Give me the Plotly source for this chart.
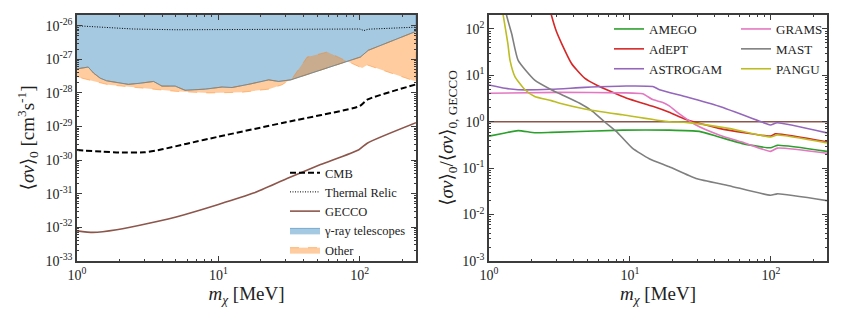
import plotly.graph_objects as go

# ── Left panel: annihilation cross-section constraints ────────────────────────
mass_gamma = [1.0, 1.2, 1.31, 1.46, 1.62, 1.96, 2.31, 2.8, 3.48, 3.99, 4.95, 5.82,
              8.09, 10.6, 12.5, 16.8, 22.7, 26.7, 32.5, 101, 115, 250]
sv_gamma = [5.2e-28, 5.9e-28, 3.9e-28, 2.75e-28, 2.3e-28, 2.05e-28, 1.8e-28, 1.95e-28,
            2.2e-28, 1.6e-28, 1.6e-28, 1.2e-28, 1.3e-28, 1.5e-28, 1.45e-28, 1.85e-28,
            2.45e-28, 2.2e-28, 2.45e-28, 1.17e-27, 1.86e-27, 6.8e-27]

mass_other = [1.0, 1.34, 1.67, 2.87, 4.95, 8.53, 14.7, 22.7, 28.2, 33.4, 42.5,
              55.5, 58.8, 81.9, 104, 113, 250]
sv_other = [3.0e-28, 2.2e-28, 1.75e-28, 1.4e-28, 1.12e-28, 1.0e-28, 1.05e-28, 1.3e-28,
            1.75e-28, 2.75e-28, 1.17e-27, 1.55e-27, 1.66e-27, 8.7e-28, 5.5e-28,
            6.8e-28, 2.2e-28]

mass_relic = [1.0, 1.5, 2.5, 5, 20, 60, 100, 107, 115, 250]
sv_relic = [1.0e-26, 9.2e-27, 8.0e-27, 7.6e-27, 7.6e-27, 7.8e-27, 8.0e-27, 7.2e-27,
            7.9e-27, 9.1e-27]

mass_cmb = [1.0, 1.5, 2.0, 3.0, 4.0, 6.0, 10, 30, 100, 113, 250]
sv_cmb = [2.0e-30, 1.8e-30, 1.7e-30, 1.72e-30, 2.1e-30, 3.1e-30, 5.0e-30, 1.35e-29,
          4.1e-29, 6.3e-29, 1.8e-28]

mass_gecco = [1.0, 1.3, 1.91, 3.29, 5.66, 10, 17.7, 30.6, 52.8, 98.6, 113, 250]
sv_gecco = [7.9e-33, 7.1e-33, 8.5e-33, 1.35e-32, 2.35e-32, 4.8e-32, 1.05e-31, 2.85e-31,
            7.4e-31, 2.05e-30, 3.2e-30, 1.3e-29]

sv_fill_top = 1e-25

# ── Right panel: ratio to GECCO ───────────────────────────────────────────────
mass_amego = [1.0, 1.3, 1.61, 2.11, 2.77, 8.9, 19, 31, 42.9, 65.2, 99.4, 111, 250]
ratio_amego = [0.49, 0.575, 0.645, 0.58, 0.59, 0.66, 0.66, 0.62, 0.47, 0.33, 0.275,
               0.31, 0.23]

mass_adept = [2.65, 2.77, 3.0, 3.27, 3.85, 4.2, 4.77, 5.78, 9.4, 14.5, 19, 25, 42.9,
              99.4, 108, 250]
ratio_adept = [350, 200, 90, 49, 18, 13, 8.7, 6.2, 3.25, 2.15, 1.6, 1.12, 0.72, 0.49,
               0.55, 0.37]

mass_astrogam = [1.0, 1.3, 1.61, 2.77, 4.77, 9.4, 14.5, 16.2, 25, 42.9, 91, 99.4, 111, 250]
ratio_astrogam = [6.2, 5.25, 4.9, 5.0, 5.5, 5.9, 5.75, 4.9, 3.45, 2.15, 0.93, 0.85,
                  0.95, 0.575]

mass_grams = [1.0, 3.18, 8.9, 12.3, 14.5, 17.1, 19, 22.3, 29.4, 42.9, 65.2, 99.4, 111, 250]
ratio_grams = [4.1, 4.3, 4.2, 4.0, 3.0, 2.6, 2.2, 1.5, 0.85, 0.52, 0.35, 0.23, 0.27, 0.21]

mass_mast = [1.28, 1.33, 1.45, 1.61, 2.11, 2.77, 3.18, 4.4, 5.46, 6.6, 8.0, 10.4, 13.7,
             19, 29.4, 50.5, 99.4, 111, 250]
ratio_mast = [450, 200, 78, 21, 7.9, 4.9, 4.0, 2.5, 1.66, 1.0, 0.62, 0.27, 0.16, 0.107,
              0.06, 0.042, 0.026, 0.028, 0.020]

mass_pangu = [1.2, 1.26, 1.36, 1.41, 1.53, 1.80, 2.11, 2.77, 3.18, 4.77, 8.9, 19, 25,
              50, 99.4, 111, 250]
ratio_pangu = [500, 200, 49, 21, 9.3, 4.9, 3.5, 2.85, 2.5, 1.89, 1.41, 1.0, 0.97, 0.72,
               0.47, 0.52, 0.35]

mass_ref = [1.0, 250]
ratio_ref = [1.0, 1.0]

FONT = "Liberation Serif, DejaVu Serif, serif"
FRAME = "#3c3c3c"
W, H = 843, 320
PAGE = 8            # default <body> margin of the written page


def px(x):
    """screen x (pixels) -> paper fraction"""
    return (x - PAGE) / W


def py(y):
    """screen y (pixels, from top) -> paper fraction"""
    return 1 - (y - PAGE) / H


fig = go.Figure()

# ── Left panel ────────────────────────────────────────────────────────────────
fig.add_trace(go.Scatter(
    x=mass_gamma + mass_gamma[::-1], y=sv_gamma + [sv_fill_top] * len(mass_gamma),
    fill="toself", fillcolor="rgba(31,119,180,0.4)", mode="lines",
    line=dict(color="rgba(31,119,180,0.5)", width=1),
    name="γ-ray telescopes", legendrank=4, hoverinfo="skip"))
fig.add_trace(go.Scatter(
    x=mass_gamma + mass_other[::-1], y=sv_gamma + sv_other[::-1],
    fill="toself", fillcolor="rgba(255,127,14,0.4)", mode="lines",
    line=dict(color="rgba(255,127,14,0.45)", width=1, dash="dash"),
    name="Other", legendrank=5, hoverinfo="skip"))
fig.add_trace(go.Scatter(
    x=mass_gamma, y=sv_gamma, mode="lines", showlegend=False,
    line=dict(color="rgba(125,125,120,0.7)", width=1)))
fig.add_trace(go.Scatter(
    x=mass_cmb, y=sv_cmb, mode="lines", name="CMB", legendrank=1,
    line=dict(color="black", width=2, dash="6px,3px", shape="spline", smoothing=0.6)))
fig.add_trace(go.Scatter(
    x=mass_relic, y=sv_relic, mode="lines", name="Thermal Relic", legendrank=2,
    line=dict(color="black", width=1, dash="1px,1.5px")))
fig.add_trace(go.Scatter(
    x=mass_gecco, y=sv_gecco, mode="lines", name="GECCO", legendrank=3,
    line=dict(color="#8c564b", width=1.6, shape="spline", smoothing=0.6)))

# ── Right panel ───────────────────────────────────────────────────────────────
right = [
    ("AMEGO", mass_amego, ratio_amego, "#2ca02c", "legend2"),
    ("AdEPT", mass_adept, ratio_adept, "#d62728", "legend2"),
    ("ASTROGAM", mass_astrogam, ratio_astrogam, "#9467bd", "legend2"),
    ("GRAMS", mass_grams, ratio_grams, "#e377c2", "legend3"),
    ("MAST", mass_mast, ratio_mast, "#7f7f7f", "legend3"),
    ("PANGU", mass_pangu, ratio_pangu, "#bcbd22", "legend3"),
]
fig.add_trace(go.Scatter(
    x=mass_ref, y=ratio_ref, mode="lines", showlegend=False, xaxis="x2", yaxis="y2",
    line=dict(color="#8c564b", width=1.6)))
for name, xs, ys, col, leg in right:
    fig.add_trace(go.Scatter(
        x=xs, y=ys, mode="lines", name=name, xaxis="x2", yaxis="y2", legend=leg,
        line=dict(color=col, width=1.6, shape="spline", smoothing=0.5)))


def log_ticks(lo, hi):
    vals = [10.0 ** e for e in range(lo, hi + 1)]
    text = [f"10<sup>{e}</sup>" for e in range(lo, hi + 1)]
    minor = [k * 10.0 ** e for e in range(lo - 1, hi + 1) for k in range(2, 10)]
    return vals, text, minor


def axis_style(rng, lo, hi, title, standoff):
    vals, text, minor = log_ticks(lo, hi)
    return dict(
        type="log", range=rng, tickmode="array", tickvals=vals, ticktext=text,
        ticks="inside", ticklen=5, tickwidth=1, tickcolor=FRAME,
        minor=dict(tickmode="array", tickvals=minor, ticks="inside", ticklen=2.5,
                   tickcolor=FRAME, showgrid=False),
        showline=True, linecolor=FRAME, linewidth=1.5, mirror="allticks",
        showgrid=False, zeroline=False, automargin=False,
        tickfont=dict(family=FONT, size=14, color="#222"),
        title=dict(text=title, font=dict(family=FONT, size=19, color="#222"),
                   standoff=standoff),
    )


x_title = "<i>m</i><sub><i>χ</i></sub> [MeV]"
legend_base = dict(xanchor="left", yanchor="top", bgcolor="rgba(0,0,0,0)")
fig.update_layout(
    width=W, height=H,
    paper_bgcolor="white", plot_bgcolor="white",
    margin=dict(l=0, r=0, t=0, b=0),
    font=dict(family=FONT, size=13, color="#222"),
    xaxis=dict(domain=[px(77), px(416)], anchor="y",
               **axis_style([0, 2.398], 0, 2, x_title, 4)),
    yaxis=dict(domain=[py(261), py(15)], anchor="x",
               **axis_style([-33, -25.68], -33, -26,
                            "⟨<i>σv</i>⟩<sub>0</sub> [cm<sup>3</sup>s<sup>-1</sup>]", 6)),
    xaxis2=dict(domain=[px(489), px(827)], anchor="y2",
                **axis_style([0, 2.398], 0, 2, x_title, 4)),
    yaxis2=dict(domain=[py(261), py(15)], anchor="x2",
                **axis_style([-3, 2.3], -3, 2,
                             "⟨<i>σv</i>⟩<sub>0</sub>/⟨<i>σv</i>⟩<sub>0, GECCO</sub>", 4)),
    legend=dict(x=px(285), y=py(158), font=dict(family=FONT, size=12.5), **legend_base),
    legend2=dict(x=px(609), y=py(14), font=dict(family=FONT, size=13), **legend_base),
    legend3=dict(x=px(736), y=py(14), font=dict(family=FONT, size=13), **legend_base),
    showlegend=True,
)

fig.write_html("out.html")
